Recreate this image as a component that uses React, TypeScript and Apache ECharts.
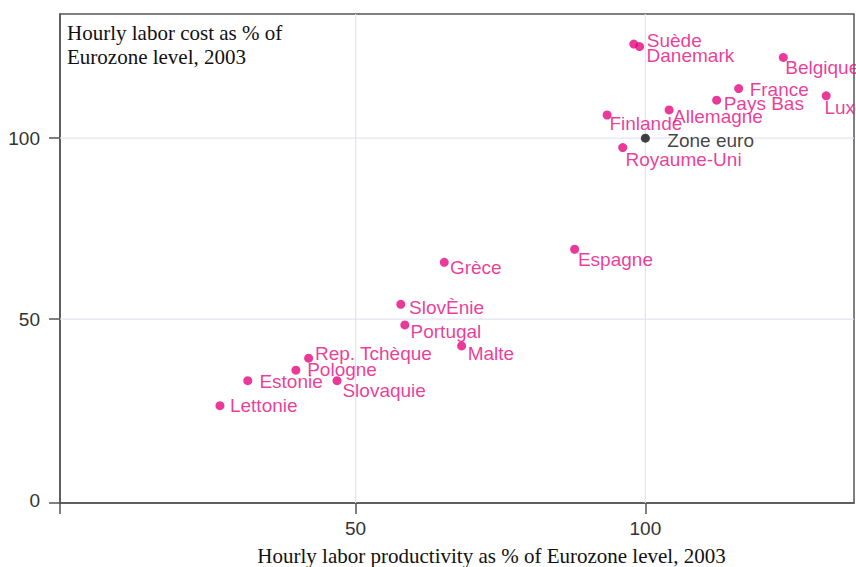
import React, { useEffect, useRef } from "react";
import * as echarts from "echarts";

// Data
const countries = [
  "Suède", "Danemark", "Belgique", "France", "Pays Bas", "Luxembourg",
  "Allemagne", "Finlande", "Zone euro", "Royaume-Uni", "Espagne", "Grèce",
  "SlovÈnie", "Portugal", "Malte", "Rep. Tchèque", "Pologne", "Estonie",
  "Slovaquie", "Lettonie",
];
const productivity = [
  98.0, 99.0, 123.8, 116.1, 112.3, 131.2,
  104.1, 93.4, 100.0, 96.1, 87.8, 65.3,
  57.8, 58.5, 68.3, 41.9, 39.7, 31.4,
  46.8, 26.6,
];
const laborCost = [
  126.0, 125.3, 122.3, 113.7, 110.5, 111.7,
  107.8, 106.4, 100.0, 97.4, 69.3, 65.7,
  54.1, 48.4, 42.6, 39.2, 35.9, 33.0,
  33.0, 26.1,
];
const xTickLabels = [50, 100];
const yTickLabels = [0, 50, 100];
const gridValues = [50, 100];
const referenceName = "Zone euro";

// Label placement (style): offset of label start from dot centre, in px
const labelOffsets: Record<string, [number, number]> = {
  "Suède": [13, -3.5],
  "Danemark": [7, 8.5],
  "Belgique": [2, 10.5],
  "France": [11, 0.5],
  "Pays Bas": [7, 3.7],
  "Luxembourg": [-1.7, 11.3],
  "Allemagne": [4, 6.7],
  "Finlande": [2.3, 8.3],
  "Zone euro": [22, 2.4],
  "Royaume-Uni": [2.7, 11.7],
  "Espagne": [3.3, 10],
  "Grèce": [5.7, 5],
  "SlovÈnie": [8.3, 3],
  "Portugal": [5.7, 6.7],
  "Malte": [6, 7.3],
  "Rep. Tchèque": [6.3, -5],
  "Pologne": [11.3, -1],
  "Estonie": [11.6, 1],
  "Slovaquie": [5.4, 10],
  "Lettonie": [10, 0],
};

const X_MIN = -1;
const X_MAX = 136;
const Y_MIN = -0.8;
const Y_MAX = 134.3;

const MAGENTA = "#e6087f";
const SYMBOL = 9;

export default function App() {
  const ref = useRef<HTMLDivElement>(null);

  useEffect(() => {
    if (!ref.current) return;
    const chart = echarts.init(ref.current, undefined, { renderer: "svg" });

    const points = countries.map((name, i) => {
      const isRef = name === referenceName;
      const off = labelOffsets[name] || [6, 0];
      return {
        name,
        value: [productivity[i], laborCost[i]],
        itemStyle: { color: isRef ? "#111111" : MAGENTA },
        label: {
          offset: [off[0] - SYMBOL / 2, off[1]],
          color: isRef ? "#111111" : MAGENTA,
        },
      };
    });

    // grid lines: [orientation (0 = vertical at x, 1 = horizontal at y), value]
    const gridData = [
      ...gridValues.map((v) => [0, v]),
      ...gridValues.map((v) => [1, v]),
    ];

    const option: any = {
      animation: false,
      backgroundColor: "#ffffff",
      grid: {
        left: 60,
        right: 2,
        top: 14,
        bottom: 64,
        show: true,
        borderColor: "#555555",
        borderWidth: 1.5,
        backgroundColor: "transparent",
      },
      xAxis: {
        type: "value",
        min: X_MIN,
        max: X_MAX,
        axisLine: { show: true, onZero: false, lineStyle: { color: "#555555", width: 1.5 } },
        axisTick: {
          show: true,
          customValues: [X_MIN, ...xTickLabels],
          length: 11,
          lineStyle: { color: "#555555", width: 1.5 },
        },
        axisLabel: {
          customValues: xTickLabels,
          margin: 16,
          fontFamily: "Liberation Sans",
          fontSize: 19,
          color: "#333333",
        },
        splitLine: { show: false },
      },
      yAxis: {
        type: "value",
        min: Y_MIN,
        max: Y_MAX,
        axisLine: { show: true, onZero: false, lineStyle: { color: "#555555", width: 1.5 } },
        axisTick: {
          show: true,
          customValues: [Y_MIN, ...gridValues],
          length: 11,
          lineStyle: { color: "#555555", width: 1.5 },
        },
        axisLabel: {
          customValues: yTickLabels,
          margin: 20,
          fontFamily: "Liberation Sans",
          fontSize: 19,
          color: "#333333",
        },
        splitLine: { show: false },
      },
      graphic: [
        {
          type: "text",
          left: 67,
          top: 21,
          style: {
            text: "Hourly labor cost as % of\nEurozone level, 2003",
            fontFamily: "Liberation Serif",
            fontSize: 21,
            lineHeight: 24,
            fill: "#111111",
          },
        },
        {
          type: "text",
          x: 491.5,
          y: 555.5,
          style: {
            text: "Hourly labor productivity as % of Eurozone level, 2003",
            fontFamily: "Liberation Serif",
            fontSize: 21,
            fill: "#111111",
            textAlign: "center",
            textVerticalAlign: "middle",
          },
        },
      ],
      series: [
        {
          type: "custom",
          z: 1,
          silent: true,
          data: gridData,
          renderItem: (params: any, api: any) => {
            const orient = api.value(0);
            const v = api.value(1);
            const p1 = orient === 0 ? api.coord([v, Y_MIN]) : api.coord([X_MIN, v]);
            const p2 = orient === 0 ? api.coord([v, Y_MAX]) : api.coord([X_MAX, v]);
            return {
              type: "line",
              shape: { x1: p1[0], y1: p1[1], x2: p2[0], y2: p2[1] },
              style: { stroke: "#e3e3f3", lineWidth: 1.2 },
            };
          },
          encode: { x: -1, y: -1 },
        },
        {
          type: "scatter",
          z: 3,
          symbol: "circle",
          symbolSize: SYMBOL,
          data: points,
          label: {
            show: true,
            position: "right",
            distance: 0,
            formatter: "{b}",
            fontFamily: "Liberation Sans",
            fontSize: 19,
          },
        },
      ],
    };

    chart.setOption(option);
    return () => chart.dispose();
  }, []);

  return (
    <div
      ref={ref}
      style={{ position: "fixed", left: 0, top: 0, width: 856, height: 567 }}
    />
  );
}
